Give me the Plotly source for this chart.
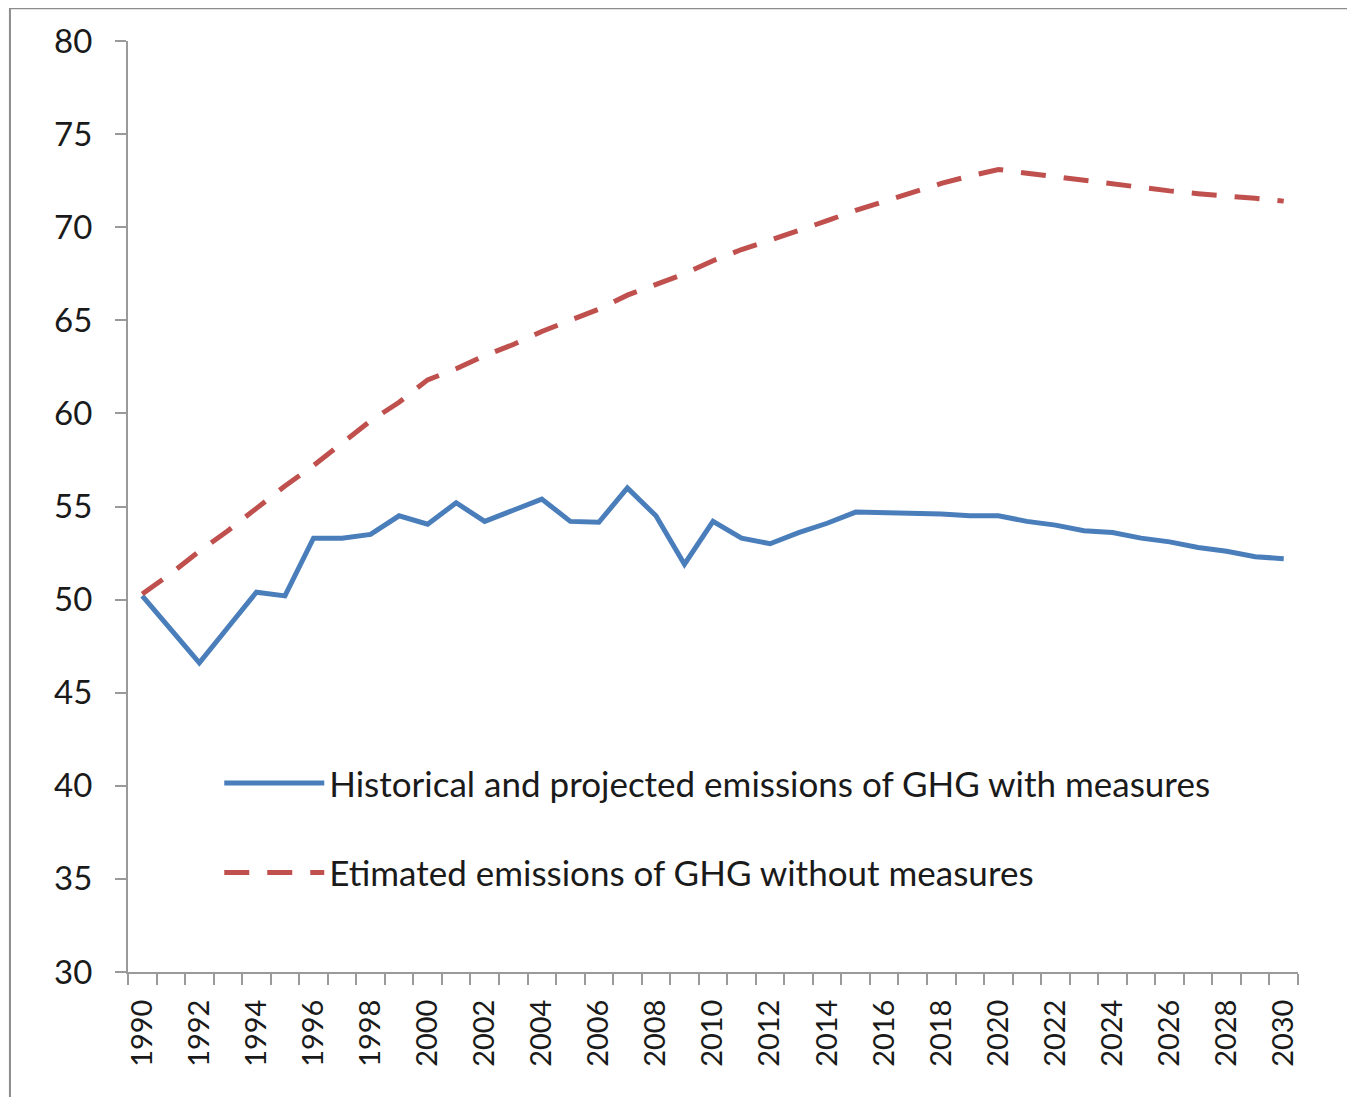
import plotly.graph_objects as go

years = list(range(1990, 2031))
with_measures = [50.2, 48.4, 46.6, 48.5, 50.4, 50.2, 53.3, 53.3, 53.5, 54.5,
                 54.05, 55.2, 54.2, 54.8, 55.4, 54.2, 54.15, 56.0, 54.5, 51.9,
                 54.2, 53.3, 53.0, 53.6, 54.1, 54.7, 54.68, 54.6, 54.6, 54.5,
                 54.5, 54.2, 54.0, 53.7, 53.6, 53.3, 53.1, 52.8, 52.6, 52.3, 52.2]
without_measures = [50.3, 51.4, 52.6, 53.7, 54.9, 56.1, 57.2, 58.4, 59.6, 60.6,
                    61.8, 62.4, 63.1, 63.7, 64.4, 65.0, 65.6, 66.35, 66.9, 67.5,
                    68.2, 68.8, 69.3, 69.8, 70.35, 70.9, 71.4, 71.9, 72.35, 72.75,
                    73.1, 72.9, 72.7, 72.55, 72.3, 72.1, 71.95, 71.8, 71.7, 71.55, 71.4]
name_with = "Historical and projected emissions of GHG with measures"
name_without = "Etimated emissions of GHG without measures"
label_years = list(range(1990, 2031, 2))
y_ticks = list(range(30, 81, 5))

FONT = "Lato"
AXIS_COLOR = "#9a9a9a"

fig = go.Figure()
fig.add_trace(go.Scatter(x=years, y=with_measures, mode="lines", name=name_with,
                         legendgroup="a",
                         line=dict(color="#4a7ebb", width=5)))
fig.add_trace(go.Scatter(x=years, y=without_measures, mode="lines", name=name_without,
                         legendgroup="b",
                         line=dict(color="#c0504d", width=5, dash="25px,18px")))

fig.update_layout(
    width=1355, height=1097,
    margin=dict(l=120, r=65, t=30, b=133),
    paper_bgcolor="white", plot_bgcolor="white",
    font=dict(family=FONT, size=29, color="#1a1a1a"),
    showlegend=True,
    legend=dict(x=0.078, y=0.155, xanchor="left", yanchor="middle",
                bgcolor="rgba(0,0,0,0)", tracegroupgap=41,
                font=dict(family=FONT, size=35, color="#1a1a1a"),
                itemwidth=100),
    xaxis=dict(range=[1989.5, 2030.5], tickmode="array", tickvals=label_years,
               ticktext=[str(y) for y in label_years], tickangle=-90,
               ticks="", showgrid=False, zeroline=False,
               showline=True, linecolor=AXIS_COLOR, linewidth=2,
               ticklabelstandoff=14,
               minor=dict(tick0=1989.5, dtick=1, ticks="outside", ticklen=11,
                          tickcolor=AXIS_COLOR, tickwidth=2, showgrid=False),
               tickfont=dict(family=FONT, size=29, color="#1a1a1a")),
    yaxis=dict(range=[30, 80], tickmode="array", tickvals=y_ticks,
               ticks="outside", ticklen=11, tickcolor=AXIS_COLOR, tickwidth=2,
               showgrid=False, zeroline=False,
               showline=True, linecolor=AXIS_COLOR, linewidth=2,
               ticklabelstandoff=16,
               tickfont=dict(family=FONT, size=33, color="#1a1a1a")),
)

# outer chart frame
fig.add_shape(type="rect", xref="paper", yref="paper",
              x0=-0.1009, x1=1.2, y0=-0.3, y1=1.0353,
              line=dict(color="#8c8c8c", width=2), layer="below")

fig.write_html("out.html")
